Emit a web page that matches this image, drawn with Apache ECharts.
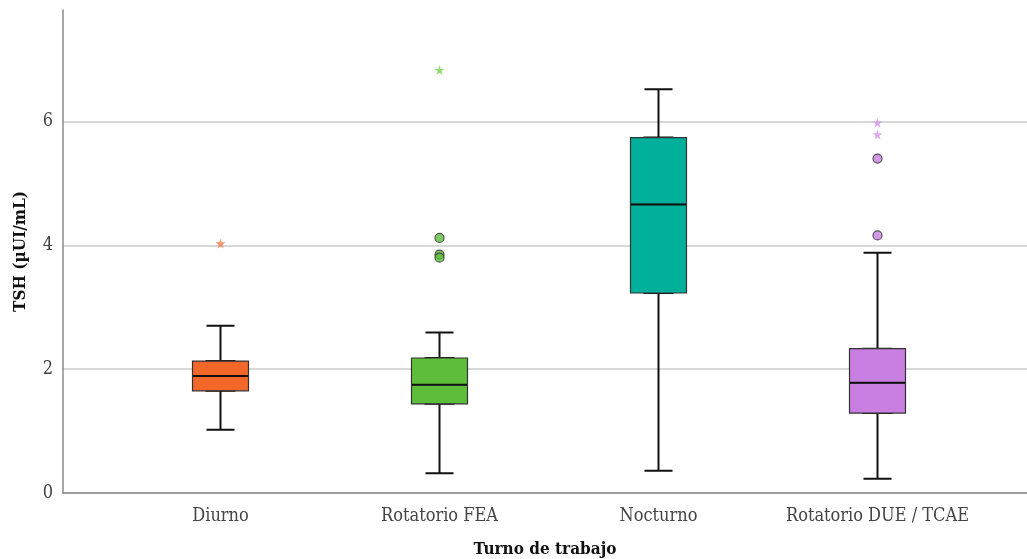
<!DOCTYPE html>
<html><head><meta charset="utf-8">
<script src="https://cdn.jsdelivr.net/npm/echarts@6/dist/echarts.min.js"></script>
<style>html,body{margin:0;padding:0;background:#fff}#c{width:1027px;height:559px}</style>
</head><body><div id="c"></div>
<script>
const categories = ['Diurno', 'Rotatorio FEA', 'Nocturno', 'Rotatorio DUE / TCAE'];
// [low whisker, Q1, median, Q3, high whisker]
const boxValues = [
  [1.02, 1.65, 1.89, 2.13, 2.70],
  [0.32, 1.44, 1.75, 2.18, 2.59],
  [0.36, 3.23, 4.66, 5.74, 6.52],
  [0.23, 1.29, 1.78, 2.33, 3.88]
];
const colors = ['#F3672A', '#5EBE3A', '#00B09A', '#C97EE2'];
const starColors = ['#F57A45', '#72D44E', '#19C2AA', '#D693EE'];
// outliers: [category index, value]
const circleOutliers = [[1, 4.12], [1, 3.85], [1, 3.80], [3, 5.40], [3, 4.16]];
const starOutliers = [[0, 4.03], [1, 6.83], [3, 5.98], [3, 5.79]];
const yTicks = { min: 0, max: 7.8, interval: 2 };

const font = '"DejaVu Serif Condensed", "DejaVu Serif", serif';
const chart = echarts.init(document.getElementById('c'));

const whiskerData = boxValues.map(v => ({ value: v }));
const bodyData = boxValues.map((v, i) => ({
  value: [v[1], v[1], v[2], v[3], v[3]],
  itemStyle: { color: colors[i] }
}));
const medianData = boxValues.map(v => ({ value: [v[2], v[2], v[2], v[2], v[2]] }));

chart.setOption({
  animation: false,
  backgroundColor: '#fff',
  grid: [
    { left: 63, right: 0, top: 10, bottom: 66, outerBoundsMode: 'none', containLabel: false },
    { left: 111, right: 40, top: 10, bottom: 66, outerBoundsMode: 'none', containLabel: false }
  ],
  xAxis: [
    { gridIndex: 0, type: 'value', min: 0, max: 1,
      axisLine: { show: true, lineStyle: { color: '#8a8a8a', width: 1.5 } },
      axisTick: { show: false }, axisLabel: { show: false }, splitLine: { show: false },
      name: 'Turno de trabajo', nameLocation: 'middle', nameGap: 48,
      nameTextStyle: { fontFamily: font, fontWeight: 'bold', fontSize: 17, color: '#111' } },
    { gridIndex: 1, type: 'category', data: categories, boundaryGap: true,
      axisLine: { show: false }, axisTick: { show: false },
      axisLabel: { interval: 0, hideOverlap: false, fontFamily: font, fontSize: 18, color: '#444', margin: 14 } },
    { gridIndex: 1, type: 'category', data: categories, boundaryGap: true, show: false },
    { gridIndex: 1, type: 'category', data: categories, boundaryGap: true, show: false }
  ],
  yAxis: [
    { gridIndex: 0, type: 'value', min: yTicks.min, max: yTicks.max, interval: yTicks.interval,
      axisLine: { show: true, lineStyle: { color: '#8a8a8a', width: 1.5 } },
      axisTick: { show: false },
      axisLabel: { fontFamily: font, fontSize: 18, color: '#444', margin: 10, showMaxLabel: false },
      splitLine: { show: true, showMaxLine: false, lineStyle: { color: '#cdcdcd', width: 1.5 } },
      name: 'TSH (µUI/mL)', nameLocation: 'middle', nameGap: 34,
      nameTextStyle: { fontFamily: font, fontWeight: 'bold', fontSize: 17, color: '#111' } },
    { gridIndex: 1, type: 'value', min: yTicks.min, max: yTicks.max, show: false, splitLine: { show: false } }
  ],
  series: [
    { type: 'boxplot', xAxisIndex: 2, yAxisIndex: 1, data: whiskerData, boxWidth: [28, 28], z: 2,
      itemStyle: { color: 'transparent', borderColor: '#111', borderWidth: 2 } },
    { type: 'boxplot', xAxisIndex: 1, yAxisIndex: 1, data: bodyData, boxWidth: [56, 56], z: 3,
      itemStyle: { borderColor: '#333', borderWidth: 1.2 } },
    { type: 'boxplot', xAxisIndex: 3, yAxisIndex: 1, data: medianData, boxWidth: [55, 55], z: 4,
      itemStyle: { color: 'transparent', borderColor: '#111', borderWidth: 2 } },
    { type: 'scatter', xAxisIndex: 1, yAxisIndex: 1, z: 5, symbol: 'circle', symbolSize: 9,
      data: circleOutliers.map(p => ({ value: [p[0], p[1]], itemStyle: { color: colors[p[0]] } })),
      itemStyle: { borderColor: '#333', borderWidth: 1.2 } },
    { type: 'scatter', xAxisIndex: 1, yAxisIndex: 1, z: 5, symbol: 'path://M50,0 L61,35 L98,35 L68,57 L79,91 L50,70 L21,91 L32,57 L2,35 L39,35 Z',
      symbolSize: 10,
      data: starOutliers.map(p => ({ value: [p[0], p[1]], itemStyle: { color: starColors[p[0]] } })) }
  ]
});
</script></body></html>
